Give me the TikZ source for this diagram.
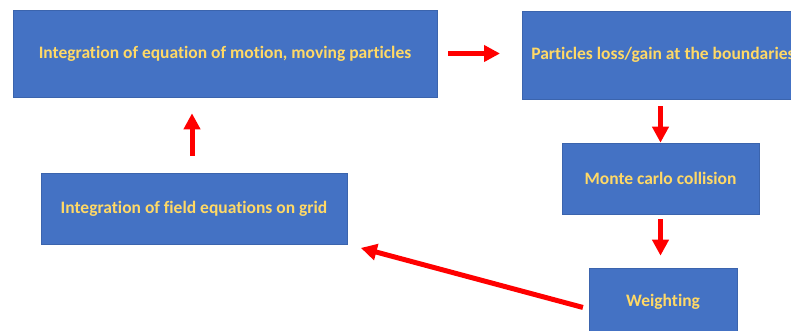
\documentclass[tikz,border=0pt]{standalone}
\usepackage{fontspec}
\setmainfont{Carlito}[Ligatures=NoCommon]
\usetikzlibrary{arrows.meta,calc}
\definecolor{boxblue}{HTML}{4472C4}
\definecolor{boxedge}{HTML}{3B64AD}
\definecolor{labelgold}{HTML}{FFD966}
\definecolor{arrowred}{HTML}{FF0000}
\tikzset{
  stepbox/.style={rectangle, fill=boxblue, draw=boxedge, line width=0.6pt,
    text=labelgold, font=\fontsize{17.5}{21}\selectfont\bfseries,
    inner sep=0pt, align=center},
  flow/.style={draw=arrowred, line width=5pt,
    -{Triangle[length=16pt,width=16pt]}},
}
\begin{document}
\begin{tikzpicture}[x=1pt,y=-1pt]
  \useasboundingbox (0,0) rectangle (791,331);
  \clip (0,0) rectangle (791,331);
  % process boxes
  \node[stepbox, minimum width=424pt, minimum height=87pt] (motion) at (225,53.5)
    {Integration of equation of motion, moving particles};
  \node[stepbox, anchor=west, minimum height=88pt, inner xsep=9pt] (bound) at (522,55)
    {Particles loss/gain at the boundaries};
  \node[stepbox, minimum width=197pt, minimum height=71pt] (mcc) at (660.5,178.5)
    {Monte carlo collision};
  \node[stepbox, minimum width=306pt, minimum height=71pt] (field) at (194,208.5)
    {Integration of field equations on grid};
  \node[stepbox, minimum width=148pt, minimum height=68pt] (weight) at (663,302)
    {Weighting};
  % cycle connectors
  \draw[flow, shorten <=11pt, shorten >=22pt] (motion.east) -- (motion.east -| bound.west);
  \draw[flow, shorten <=7pt] (bound.south -| mcc.north) -- (mcc.north);
  \draw[flow, shorten <=5pt, shorten >=12pt] (mcc.south) -- (mcc.south |- weight.north);
  \draw[flow, shorten <=6pt, shorten >=14pt] ($(weight.west)+(0,7)$) -- (field.south east);
  \draw[flow, shorten <=17pt, shorten >=16pt] ([xshift=-2pt]field.north) -- ([xshift=-2pt]field.north |- motion.south);
\end{tikzpicture}
\end{document}
